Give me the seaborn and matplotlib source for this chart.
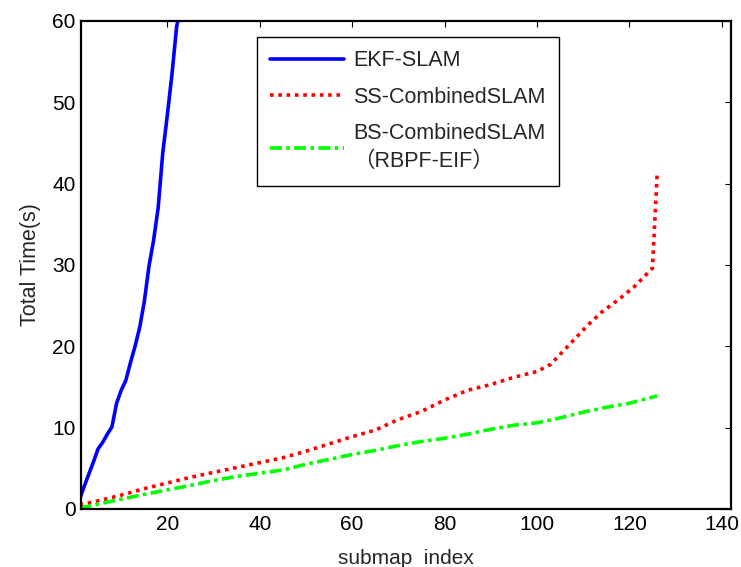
import matplotlib
matplotlib.use("Agg")
import matplotlib.pyplot as plt
import seaborn as sns
import pandas as pd

# Cumulative run time of each SLAM variant per submap index
ekf_x = [1, 2, 3, 4, 5, 6, 7, 8, 9, 10, 11, 12, 13, 14, 15, 16, 17, 18, 19, 20, 21, 22, 23]
ekf_t = [1.2, 2.8, 4.3, 5.8, 7.4, 8.2, 9.2, 10.1, 13.0, 14.6, 15.8, 18.0, 20.0, 22.3,
         25.5, 29.8, 33.0, 37.0, 43.8, 48.5, 53.5, 59.3, 62.0]

ss_x = [1, 5, 10, 15, 20, 25, 30, 35, 40, 45, 50, 55, 60, 65, 70, 75, 80, 85, 90, 95,
        100, 103, 107, 111, 114, 118, 121, 125, 126]
ss_t = [0.5, 1.0, 1.7, 2.5, 3.2, 3.9, 4.5, 5.1, 5.7, 6.3, 7.1, 8.0, 8.9, 9.7, 11.0, 12.0,
        13.4, 14.6, 15.3, 16.2, 16.9, 17.8, 20.2, 22.6, 24.2, 25.9, 27.3, 29.6, 41.0]

bs_x = [1, 5, 10, 15, 20, 25, 30, 35, 40, 45, 50, 55, 60, 65, 70, 75, 80, 85, 90, 95,
        100, 105, 110, 115, 120, 126]
bs_t = [0.1, 0.6, 1.2, 1.8, 2.35, 2.9, 3.5, 4.0, 4.4, 4.8, 5.5, 6.1, 6.7, 7.2, 7.8, 8.3,
        8.7, 9.2, 9.8, 10.3, 10.6, 11.2, 11.9, 12.5, 13.0, 13.9]

labels = ["EKF-SLAM", "SS-CombinedSLAM", "BS-CombinedSLAM\n\uff08RBPF-EIF\uff09"]
x_ticks = [20, 40, 60, 80, 100, 120, 140]
y_ticks = [0, 10, 20, 30, 40, 50, 60]

sns.set_style("white")
plt.rcParams["font.family"] = ["Liberation Sans", "Noto Sans CJK SC", "DejaVu Sans"]

fig = plt.figure(figsize=(7.41, 5.67), dpi=100)
ax = fig.add_axes([81 / 741, 1 - 509 / 567, 650 / 741, 488 / 567])

series = [
    (ekf_x, ekf_t, labels[0], "#0000ff", "-"),
    (ss_x, ss_t, labels[1], "#ff0000", (0, (1, 1.3))),
    (bs_x, bs_t, labels[2], "#00ff00", (0, (3.3, 1.2, 1, 1.2))),
]
for xs, ts, lab, col, ls in series:
    df = pd.DataFrame({"submap": xs, "time": ts})
    sns.lineplot(data=df, x="submap", y="time", ax=ax, color=col, linestyle=ls,
                 linewidth=2.6, label=lab, estimator=None, sort=False)

ax.set_xlim(1.3, 142)
ax.set_ylim(0, 60)
ax.set_xticks(x_ticks)
ax.set_yticks(y_ticks)
ax.tick_params(direction="in", length=4, width=0.8, top=True, right=True,
               labelsize=15, colors="black", pad=4)
for sp in ax.spines.values():
    sp.set_visible(True)
    sp.set_color("black")
    sp.set_linewidth(1.6)

ax.set_xlabel("submap  index", fontsize=15, labelpad=11)
ax.set_ylabel("Total Time(s)", fontsize=15.5, labelpad=8)

leg = ax.legend(loc="upper left", bbox_to_anchor=(0.271, 0.967), fontsize=15.5,
                frameon=True, fancybox=False, edgecolor="black", framealpha=1,
                handlelength=3.4, handletextpad=0.45, borderpad=0.62,
                labelspacing=0.72, borderaxespad=0)
leg.get_frame().set_linewidth(1.0)
for t in leg.get_texts():
    t.set_linespacing(1.42)

fig.savefig("out.png", dpi=100)
